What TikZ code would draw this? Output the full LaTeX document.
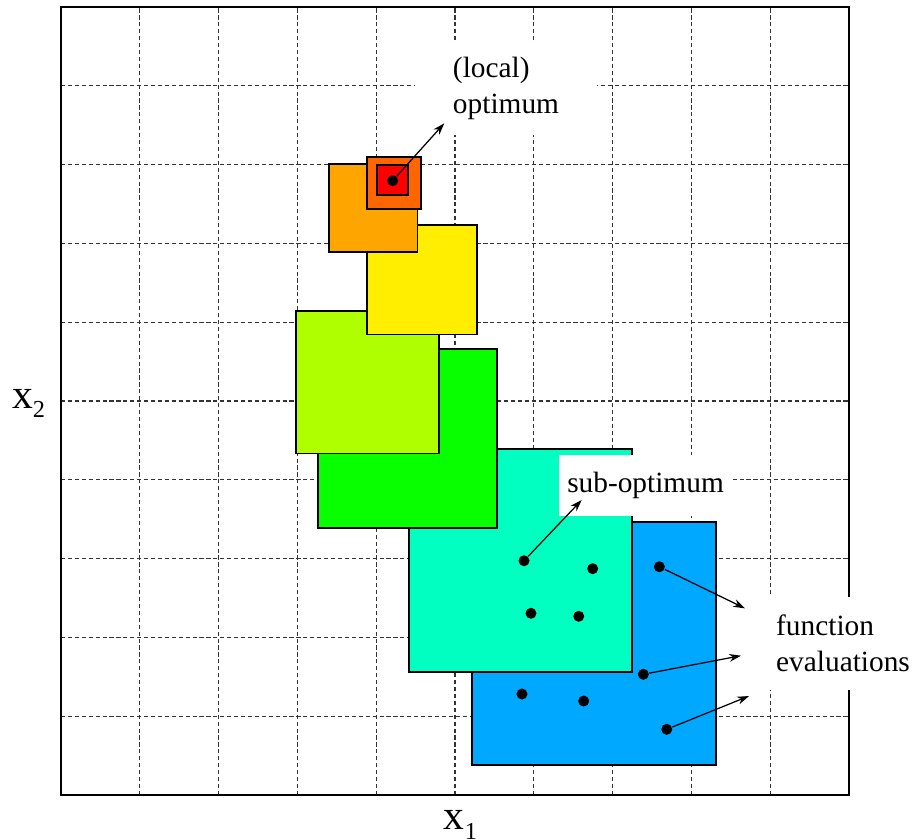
\documentclass[tikz,border=0pt]{standalone}
\usepackage{fontspec}
\setmainfont{Liberation Serif}
\newfontfamily\lbserif{Liberation Serif}
\usetikzlibrary{arrows.meta}
\definecolor{cBlue}{HTML}{00A8FF}
\definecolor{cCyan}{HTML}{00FFC0}
\definecolor{cGreen}{HTML}{08FF00}
\definecolor{cYGreen}{HTML}{B0FF00}
\definecolor{cYellow}{HTML}{FFEE00}
\definecolor{cOrange}{HTML}{FFA500}
\definecolor{cDOrange}{HTML}{FF6600}
\definecolor{cRed}{HTML}{FF0000}
\begin{document}
\begin{tikzpicture}[
  gridline/.style={draw=black!80, line width=0.42pt, dash pattern=on 1.5pt off 1.0pt},
  framebox/.style={draw=black, line width=0.75pt},
  sq/.style={draw=black, line width=0.6pt},
  dotnode/.style={circle, fill=black, inner sep=0pt, minimum size=0.14cm},
  lbl/.style={fill=white, align=left, inner sep=0pt, font=\lbserif\fontsize{10.6}{13}\selectfont},
  arr/.style={-{Stealth[length=1.5mm,width=1.0mm]}, line width=0.45pt},
  axislbl/.style={inner sep=0pt, font=\lbserif\fontsize{15}{18}\selectfont}
]
\useasboundingbox (-0.774,-0.558) rectangle (10.812,10.089);
% grid
\foreach \i in {1,...,9} {
  \draw[gridline] (\i,0) -- (\i,10);
  \draw[gridline] (0,\i) -- (10,\i);
}
\draw[framebox] (0,0) rectangle (10,10);
% squares
\draw[sq, fill=cBlue]    (5.216,0.381) rectangle (8.308,3.468);
\draw[sq, fill=cCyan]    (4.416,1.557) rectangle (7.250,4.387);
\draw[sq, fill=cGreen]   (3.265,3.392) rectangle (5.537,5.664);
\draw[sq, fill=cYGreen]  (2.982,4.336) rectangle (4.793,6.146);
\draw[sq, fill=cYellow]  (3.887,5.844) rectangle (5.275,7.230);
\draw[sq, fill=cOrange]  (3.401,6.891) rectangle (4.522,8.008);
\draw[sq, fill=cDOrange] (3.887,7.433) rectangle (4.565,8.100);
\draw[sq, fill=cRed]     (4.014,7.610) rectangle (4.400,7.991);
% dots
\node[dotnode] (opt) at (4.209,7.796) {};
\node[dotnode] (s1) at (5.876,2.973) {};
\node[dotnode] (s2) at (6.747,2.872) {};
\node[dotnode] (s3) at (5.964,2.306) {};
\node[dotnode] (s4) at (6.570,2.268) {};
\node[dotnode] (b1) at (7.593,2.897) {};
\node[dotnode] (b2) at (7.390,1.532) {};
\node[dotnode] (b3) at (5.850,1.282) {};
\node[dotnode] (b4) at (6.633,1.193) {};
\node[dotnode] (b5) at (7.687,0.834) {};
% labels
\node[lbl, minimum width=2.310cm, minimum height=1.180cm] (loclbl) at (5.647,8.966) {(local)\\optimum};
\node[lbl, minimum width=2.195cm, minimum height=0.774cm] (sublbl) at (7.418,3.928) {sub-optimum};
\node[lbl, minimum width=3.173cm, minimum height=1.180cm] (felbl) at (9.924,1.923) {function\\evaluations};
% arrow ends
\coordinate (optend) at (4.864,8.524);
\coordinate (subend) at (6.608,3.744);
\coordinate (fe1) at (8.680,2.369);
\coordinate (fe2) at (8.629,1.768);
\coordinate (fe3) at (8.731,1.256);
\draw[arr] (opt) -- (optend);
\draw[arr] (s1) -- (subend);
\draw[arr] (b1) -- (fe1);
\draw[arr] (b2) -- (fe2);
\draw[arr] (b5) -- (fe3);
% axis labels
\node[axislbl, anchor=base west] (xtwo) at (-0.626,4.911) {x\raisebox{-3.6pt}{\fontsize{8.8}{10}\selectfont 2}};
\node[axislbl, anchor=base west] (xone) at (4.853,-0.440) {x\raisebox{-3.4pt}{\fontsize{8.8}{10}\selectfont 1}};
\end{tikzpicture}
\end{document}
